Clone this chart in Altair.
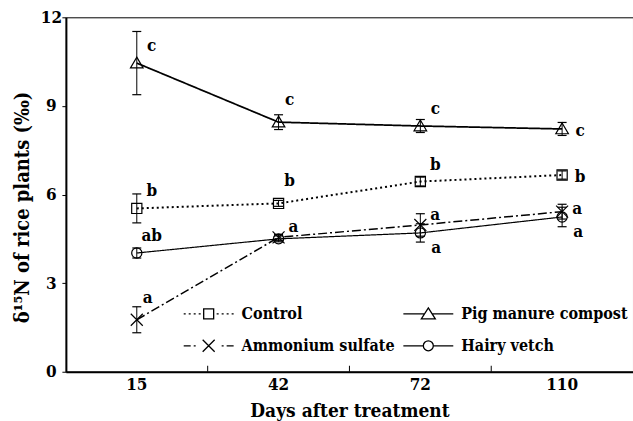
import altair as alt
import pandas as pd

# ---------------- data ----------------
days = ["15", "42", "72", "110"]
series = ["Control", "Pig manure compost", "Ammonium sulfate", "Hairy vetch"]
legend_order = ["Control", "Ammonium sulfate", "Pig manure compost", "Hairy vetch"]

control = [5.53, 5.70, 6.44, 6.66]
control_err = [0.49, 0.10, 0.15, 0.14]
pig = [10.45, 8.45, 8.32, 8.22]
pig_err = [1.07, 0.25, 0.22, 0.22]
ammon = [1.76, 4.55, 4.97, 5.42]
ammon_err = [0.44, 0.10, 0.38, 0.25]
hairy = [4.02, 4.50, 4.70, 5.24]
hairy_err = [0.17, 0.10, 0.31, 0.33]

control_letters = ["b", "b", "b", "b"]
pig_letters = ["c", "c", "c", "c"]
ammon_letters = ["a", "a", "a", "a"]
hairy_letters = ["ab", "", "a", "a"]

control_pos = ["ur", "ur2", "ur", "r"]
pig_pos = ["ur", "ur2", "ur", "r"]
ammon_pos = ["ur2", "mr", "mr", "r2"]
hairy_pos = ["ur", "", "lr", "lr"]

vals = {"Control": control, "Pig manure compost": pig,
        "Ammonium sulfate": ammon, "Hairy vetch": hairy}
errs = {"Control": control_err, "Pig manure compost": pig_err,
        "Ammonium sulfate": ammon_err, "Hairy vetch": hairy_err}
lets = {"Control": control_letters, "Pig manure compost": pig_letters,
        "Ammonium sulfate": ammon_letters, "Hairy vetch": hairy_letters}
poss = {"Control": control_pos, "Pig manure compost": pig_pos,
        "Ammonium sulfate": ammon_pos, "Hairy vetch": hairy_pos}

rows = []
for s in series:
    for i, d in enumerate(days):
        v, e = vals[s][i], errs[s][i]
        rows.append(dict(series=s, day=d, value=v, lo=v - e, hi=v + e,
                         letter=lets[s][i], pos=poss[s][i]))
df = pd.DataFrame(rows)

# ---------------- styling ----------------
FONT = "DejaVu Serif Condensed, DejaVu Serif"
W, H = 568, 355

U = 6.0


def seg(a, b):
    return f"M{a/U:.3f},0H{b/U:.3f}"


def legend_path(name):
    if name == "Control":
        return "".join(seg(x, x + 2) for x in (-25, -20, -15, -10)) + \
            "".join(seg(x, x + 2) for x in (8, 13, 18, 23)) + \
            f"M{-5/U:.3f},{-5/U:.3f}H{5/U:.3f}V{5/U:.3f}H{-5/U:.3f}Z"
    if name == "Pig manure compost":
        return seg(-25, -3.8) + seg(3.8, 25) + \
            f"M0,{-6/U:.3f}L{7/U:.3f},{5/U:.3f}H{-7/U:.3f}Z"
    if name == "Ammonium sulfate":
        return seg(-25, -18) + seg(-15, -13) + seg(13, 15) + seg(18, 25) + \
            f"M{-6/U:.3f},{-6/U:.3f}L{6/U:.3f},{6/U:.3f}M{-6/U:.3f},{6/U:.3f}L{6/U:.3f},{-6/U:.3f}"
    r = 5 / U
    return seg(-25, -5) + seg(5, 25) + \
        f"M{-r:.3f},0A{r:.3f},{r:.3f} 0 1,0 {r:.3f},0A{r:.3f},{r:.3f} 0 1,0 {-r:.3f},0"


marker_paths = [
    "M-0.85,-0.85H0.85V0.85H-0.85Z",
    "M0,-1L1.05,0.8H-1.05Z",
    "M-1,-1L1,1M-1,1L1,-1",
    "M-0.85,0A0.85,0.85 0 1,0 0.85,0A0.85,0.85 0 1,0 -0.85,0",
]

xscale = alt.Scale(type="band", domain=days, paddingInner=0, paddingOuter=0)
xaxis = alt.Axis(title="Days after treatment", ticks=False, tickSize=0,
                 labelFont=FONT, labelFontWeight="bold", labelFontSize=17,
                 labelPadding=5, labelColor="black", labelAngle=0,
                 titleFont=FONT, titleFontWeight="bold", titleFontSize=19,
                 titleColor="black", titlePadding=9,
                 domainColor="black", domainWidth=2, grid=False)
X = alt.X("day:O", sort=days, scale=xscale, axis=xaxis)
Y = alt.Y("value:Q", scale=alt.Scale(domain=[0, 12], nice=False),
          axis=alt.Axis(title="δ¹⁵N of rice plants (‰)", values=[0, 3, 6, 9, 12],
                        tickSize=4, tickColor="black", tickWidth=1,
                        labelFont=FONT, labelFontWeight="bold", labelFontSize=17,
                        labelAlign="center", labelPadding=11, labelColor="black",
                        titleFont=FONT, titleFontWeight="bold", titleFontSize=20,
                        titleColor="black", titlePadding=8, titleY=190,
                        domainColor="black", domainWidth=2, grid=False))

base = alt.Chart(df)

lines = base.mark_line(color="black").encode(
    x=X, y=Y, detail="series:N",
    strokeDash=alt.StrokeDash("series:N", scale=alt.Scale(
        domain=series, range=[[2, 3], [1, 0], [9, 3, 2, 3], [1, 0]]), legend=None),
    strokeWidth=alt.StrokeWidth("series:N", scale=alt.Scale(
        domain=series, range=[2.0, 1.2, 1.4, 1.2]), legend=None),
)

bars = base.mark_rule(color="black", strokeWidth=1).encode(
    x=X, y=alt.Y("lo:Q", scale=alt.Scale(domain=[0, 12], nice=False)), y2="hi:Q")

caps = base.transform_fold(["lo", "hi"], as_=["k", "cap"]).mark_tick(
    color="black", thickness=1.2, size=9, opacity=1).encode(
    x=X, y=alt.Y("cap:Q", scale=alt.Scale(domain=[0, 12], nice=False)))

points = base.mark_point(filled=False, color="black", size=144, strokeWidth=1.2,
                         opacity=1).encode(
    x=X, y=Y,
    shape=alt.Shape("series:N", scale=alt.Scale(domain=series, range=marker_paths),
                    legend=None))

offsets = {"ur": (15, -17), "ur2": (11, -22), "r": (18, 2), "r2": (15, -3),
           "lr": (16, 15), "mr": (15, -10)}
texts = []
for p, (ddx, ddy) in offsets.items():
    texts.append(base.transform_filter(alt.datum.pos == p).mark_text(
        font=FONT, fontWeight="bold", fontSize=17, color="black",
        align="center", baseline="middle", dx=ddx, dy=ddy).encode(
        x=X, y=Y, text="letter:N"))

tick_df = pd.DataFrame({"day": days[1:]})
xticks = alt.Chart(tick_df).mark_rule(color="black", strokeWidth=1).encode(
    x=alt.X("day:O", sort=days, scale=xscale, axis=xaxis, bandPosition=0),
    y=alt.value(H), y2=alt.value(H - 6))

legend_layer = base.transform_filter("false").mark_point(
    filled=False, color="black", size=144, strokeWidth=1.3, opacity=1).encode(
    x=X, y=Y,
    shape=alt.Shape("series:N",
                    scale=alt.Scale(domain=legend_order,
                                    range=[legend_path(n) for n in legend_order]),
                    legend=alt.Legend(title=None, orient="none", legendX=135, legendY=289,
                                      columns=2, columnPadding=5, rowPadding=15,
                                      symbolSize=144, symbolStrokeWidth=1.3,
                                      symbolStrokeColor="black", labelOffset=25,
                                      labelFont=FONT, labelFontWeight="bold",
                                      labelFontSize=16, labelColor="black",
                                      padding=0, labelLimit=300)))

chart = alt.layer(lines, bars, caps, points, *texts, xticks, legend_layer).resolve_scale(
    shape="independent"
).properties(
    width=W, height=H,
    autosize=alt.AutoSizeParams(type="none"),
    padding={"left": 66, "top": 17, "right": 0, "bottom": 49},
    background="white",
).configure_view(stroke="black", strokeWidth=1)

chart.save("out.html", embed_options={"renderer": "svg", "actions": False})
